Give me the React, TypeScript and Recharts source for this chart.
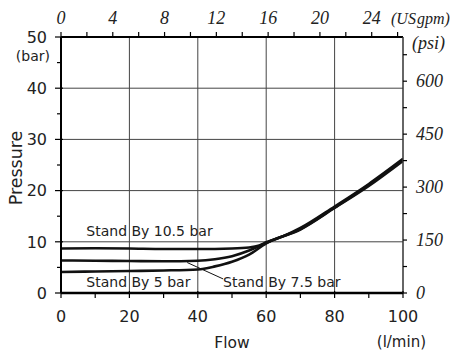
import React from 'react';
import { ComposedChart, Line, XAxis, YAxis, ReferenceLine, ReferenceDot } from 'recharts';

// Flow (l/min) vs pressure (bar) for the three stand-by settings
const flowSb105 = [0, 10, 20, 30, 40, 50, 55, 58, 60, 65, 70, 80, 90, 100];
const pSb105 = [8.7, 8.75, 8.7, 8.6, 8.6, 8.7, 8.9, 9.3, 9.9, 11.1, 12.7, 16.9, 21.3, 26.2];

const flowSb75 = [0, 10, 20, 30, 40, 45, 50, 55, 58, 60, 70, 80, 90, 100];
const pSb75 = [6.35, 6.3, 6.25, 6.2, 6.3, 6.6, 7.2, 8.3, 9.2, 9.8, 12.5, 16.7, 21.1, 26.0];

const flowSb5 = [0, 10, 20, 30, 40, 45, 50, 55, 60, 70, 80, 90, 100];
const pSb5 = [4.1, 4.2, 4.3, 4.4, 4.6, 5.2, 6.1, 7.5, 9.7, 12.4, 16.6, 20.9, 25.8];

// Axes
const flowTicks = [0, 10, 20, 30, 40, 50, 60, 70, 80, 90, 100];
const barTicks = [0, 5, 10, 15, 20, 25, 30, 35, 40, 45, 50];
const gpmTicks = [0, 2, 4, 6, 8, 10, 12, 14, 16, 18, 20, 22, 24, 26];
const psiTicks = [0, 75, 150, 225, 300, 375, 450, 525, 600, 675];
const gridFlow = [20, 40, 60, 80];
const gridBar = [10, 20, 30, 40];

const LMIN_PER_GPM = 3.7854;
const PSI_PER_BAR = 14.5038;

// Annotations (data coordinates)
const labels = [
  { text: 'Stand By 10.5 bar', flow: 7.4, p: 12.2 },
  { text: 'Stand By 5 bar', flow: 7.4, p: 2.25 },
  { text: 'Stand By 7.5 bar', flow: 47.4, p: 2.25 },
];
const leader = [{ x: 36.9, y: 5.95 }, { x: 47.4, y: 2.75 }];

const zip = (xs: number[], ys: number[]) => xs.map((f, i) => ({ flow: f, p: ys[i] }));
const dataSb105 = zip(flowSb105, pSb105);
const dataSb75 = zip(flowSb75, pSb75);
const dataSb5 = zip(flowSb5, pSb5);
// same curve expressed in US gpm, only used to bind the top axis
const dataGpm = flowSb105.map((f, i) => ({ gpm: f / LMIN_PER_GPM, p: pSb105[i] }));

const SANS = 'DejaVu Sans';
const SERIF = 'Liberation Serif';

const LeftTick = (props: any) => {
  const { x, y, payload } = props;
  const v = payload.value;
  const major = v % 10 === 0;
  return (
    <g>
      <line x1={major ? x - 6 : x - 4} x2={major ? x + 2 : x} y1={y} y2={y} stroke="#000" strokeWidth={1.2} />
      {major && (
        <text x={x - 14} y={y} dy="0.36em" textAnchor="end" fontFamily={SANS} fontSize={16} fill="#222">
          {v}
        </text>
      )}
    </g>
  );
};

const BottomTick = (props: any) => {
  const { x, y, payload } = props;
  const v = payload.value;
  const major = v % 20 === 0;
  return (
    <g>
      <line x1={x} x2={x} y1={major ? y - 2 : y} y2={y + 5} stroke="#000" strokeWidth={1.2} />
      {major && (
        <text x={x} y={y + 23} dy="0.36em" textAnchor="middle" fontFamily={SANS} fontSize={16} fill="#222">
          {v}
        </text>
      )}
    </g>
  );
};

const TopTick = (props: any) => {
  const { x, y, payload } = props;
  const v = payload.value;
  const show = v % 4 === 0;
  return (
    <g>
      <line x1={x} x2={x} y1={y} y2={y - 5} stroke="#000" strokeWidth={1.2} />
      {show && (
        <text x={x} y={y - 13} textAnchor="middle" fontFamily={SERIF} fontStyle="italic" fontSize={18} fill="#222">
          {v}
        </text>
      )}
    </g>
  );
};

const RightTick = (props: any) => {
  const { x, y, payload } = props;
  const v = payload.value;
  const show = v % 150 === 0;
  return (
    <g>
      <line x1={x} x2={x + 4} y1={y} y2={y} stroke="#000" strokeWidth={1.2} />
      {show && (
        <text x={x + 13} y={y} dy="0.33em" textAnchor="start" fontFamily={SERIF} fontStyle="italic" fontSize={18} fill="#222">
          {v}
        </text>
      )}
    </g>
  );
};

const leftLabel = (props: any) => {
  const vb = props.viewBox;
  const cx = vb.x + 13.5;
  const cy = vb.y + vb.height / 2 + 3;
  return (
    <g>
      <g transform={`translate(${cx}, ${cy}) rotate(-90)`}>
        <text x={0} y={0} textAnchor="middle" fontFamily={SANS} fontSize={17.5} fill="#222">
          Pressure
        </text>
      </g>
      <text x={vb.x + vb.width - 11} y={vb.y + 18.5} dy="0.36em" textAnchor="end" fontFamily={SANS} fontSize={14} fill="#222">
        (bar)
      </text>
    </g>
  );
};

const bottomLabel = (props: any) => {
  const vb = props.viewBox;
  return (
    <g>
      <text x={vb.x + vb.width / 2} y={vb.y + 49} dy="0.36em" textAnchor="middle" fontFamily={SANS} fontSize={15.5} fill="#222">
        Flow
      </text>
      <text x={vb.x + vb.width + 23} y={vb.y + 49} dy="0.36em" textAnchor="end" fontFamily={SANS} fontSize={15} fill="#222">
        (l/min)
      </text>
    </g>
  );
};

const topLabel = (props: any) => {
  const vb = props.viewBox;
  return (
    <text
      x={vb.x + vb.width - 12}
      y={vb.y + vb.height - 13}
      textAnchor="start"
      fontFamily={SERIF}
      fontStyle="italic"
      fontSize={16}
      wordSpacing={-3}
      fill="#222"
    >
      (US gpm)
    </text>
  );
};

const rightLabel = (props: any) => {
  const vb = props.viewBox;
  return (
    <text x={vb.x + 9} y={vb.y + 6.5} dy="0.33em" textAnchor="start" fontFamily={SERIF} fontStyle="italic" fontSize={18} fill="#222">
      (psi)
    </text>
  );
};

const makeTextLabel = (text: string) => (props: any) => {
  const vb = props.viewBox;
  return (
    <text x={vb.x} y={vb.y} dy="0.36em" textAnchor="start" fontFamily={SANS} fontSize={14} fill="#222">
      {text}
    </text>
  );
};

export default function App() {
  return (
    <div style={{ width: 450, height: 345 }}>
      <ComposedChart width={450} height={345} margin={{ top: 0, right: 0, bottom: 0, left: 0 }}>
        <XAxis
          xAxisId="flow"
          dataKey="flow"
          type="number"
          domain={[0, 100]}
          ticks={flowTicks}
          interval={0}
          orientation="bottom"
          height={60}
          tickSize={0}
          tickMargin={0}
          tickLine={false}
          tick={BottomTick}
          axisLine={{ stroke: '#000', strokeWidth: 2.5 }}
          label={{ content: bottomLabel }}
          allowDataOverflow
        />
        <XAxis
          xAxisId="gpm"
          dataKey="gpm"
          type="number"
          domain={[0, 100 / LMIN_PER_GPM]}
          ticks={gpmTicks}
          interval={0}
          orientation="top"
          height={29}
          tickSize={0}
          tickMargin={0}
          tickLine={false}
          tick={TopTick}
          axisLine={{ stroke: '#000', strokeWidth: 2 }}
          label={{ content: topLabel }}
          allowDataOverflow
        />
        <YAxis
          yAxisId="bar"
          type="number"
          domain={[0, 50]}
          ticks={barTicks}
          interval={0}
          orientation="left"
          width={53}
          tickSize={0}
          tickMargin={0}
          tickLine={false}
          tick={LeftTick}
          axisLine={{ stroke: '#000', strokeWidth: 2 }}
          label={{ content: leftLabel }}
          allowDataOverflow
        />
        <YAxis
          yAxisId="psi"
          type="number"
          domain={[0, 50 * PSI_PER_BAR]}
          ticks={psiTicks}
          interval={0}
          orientation="right"
          width={55}
          tickSize={0}
          tickMargin={0}
          tickLine={false}
          tick={RightTick}
          axisLine={{ stroke: '#333', strokeWidth: 1.5 }}
          label={{ content: rightLabel }}
          allowDataOverflow
        />

        {gridFlow.map((g) => (
          <ReferenceLine key={'gx' + g} xAxisId="flow" yAxisId="bar" x={g} stroke="#444" strokeWidth={1} />
        ))}
        {gridBar.map((g) => (
          <ReferenceLine key={'gy' + g} xAxisId="flow" yAxisId="bar" y={g} stroke="#444" strokeWidth={1} />
        ))}

        <Line xAxisId="gpm" yAxisId="bar" data={dataGpm} dataKey="p" type="monotone" stroke="none" strokeWidth={0} dot={false} activeDot={false} isAnimationActive={false} />

        <Line xAxisId="flow" yAxisId="bar" data={dataSb105} dataKey="p" type="monotone" stroke="#111" strokeWidth={2.6} dot={false} isAnimationActive={false} />
        <Line xAxisId="flow" yAxisId="bar" data={dataSb75} dataKey="p" type="monotone" stroke="#111" strokeWidth={2.6} dot={false} isAnimationActive={false} />
        <Line xAxisId="flow" yAxisId="bar" data={dataSb5} dataKey="p" type="monotone" stroke="#111" strokeWidth={2.6} dot={false} isAnimationActive={false} />

        <ReferenceLine xAxisId="flow" yAxisId="bar" segment={leader} stroke="#111" strokeWidth={1} />

        {labels.map((l) => (
          <ReferenceDot
            key={l.text}
            xAxisId="flow"
            yAxisId="bar"
            x={l.flow}
            y={l.p}
            r={0}
            fill="none"
            stroke="none"
            label={{ content: makeTextLabel(l.text) }}
          />
        ))}
      </ComposedChart>
    </div>
  );
}
